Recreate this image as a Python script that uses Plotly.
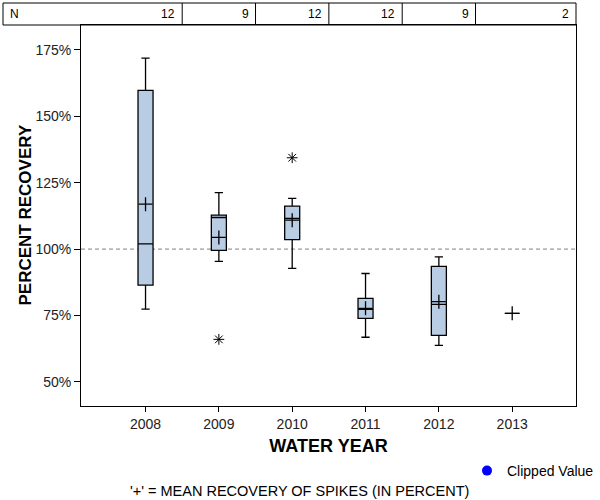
import plotly.graph_objects as go

years = [2008, 2009, 2010, 2011, 2012, 2013]
n_counts = [12, 9, 12, 12, 9, 2]
q1 = [86.4, 99.5, 103.6, 73.9, 67.5, 75.8]
median = [102.0, 111.9, 111.6, 77.3, 79.2, 75.8]
q3 = [159.8, 112.8, 116.2, 81.4, 93.5, 75.8]
lower_whisker = [77.4, 95.4, 92.7, 66.8, 63.7, 75.8]
upper_whisker = [171.9, 121.3, 119.1, 90.8, 97.1, 75.8]
means = [116.9, 104.4, 110.9, 77.7, 80.2, 75.8]
outlier_years = [2009, 2010]
outlier_values = [66.0, 134.4]
y_ticks = [50, 75, 100, 125, 150, 175]
y_tick_labels = ["50%", "75%", "100%", "125%", "150%", "175%"]

FONT = "Liberation Sans, Arial, sans-serif"
BOX_FILL = "#B8CCE4"

fig = go.Figure()

fig.add_trace(go.Box(
    x=years, q1=q1, median=median, q3=q3,
    lowerfence=lower_whisker, upperfence=upper_whisker,
    width=0.205, whiskerwidth=0.55, boxpoints=False,
    fillcolor=BOX_FILL, line=dict(color="black", width=1.3),
    showlegend=False, hoverinfo="skip",
))

fig.add_trace(go.Scatter(
    x=years, y=means, mode="markers",
    marker=dict(symbol="cross-thin", size=10, color="black",
                line=dict(color="black", width=1.3)),
    showlegend=False, hoverinfo="skip",
))

fig.add_trace(go.Scatter(
    x=outlier_years, y=outlier_values, mode="markers",
    marker=dict(symbol="asterisk-open", size=9, color="black",
                line=dict(color="black", width=1)),
    showlegend=False, hoverinfo="skip",
))

# legend entry for clipped values
fig.add_trace(go.Scatter(
    x=[None], y=[None], mode="markers", name="Clipped Value",
    marker=dict(symbol="circle", size=10, color="#0000FF"),
))

# reference line at 100%
fig.add_shape(type="line", xref="paper", yref="y", x0=0, x1=1, y0=100, y1=100,
              line=dict(color="#808080", width=1, dash="4px,3px"), layer="below")

# header table (N counts)
top_y = 1 + 22 / 381
left_x = -78 / 495
fig.add_shape(type="rect", xref="paper", yref="paper", x0=left_x, x1=1, y0=1, y1=top_y,
              line=dict(color="black", width=1), fillcolor="rgba(0,0,0,0)")
for yr in years[:-1]:
    fig.add_shape(type="line", xref="x", yref="paper", x0=yr + 0.5, x1=yr + 0.5,
                  y0=1, y1=top_y, line=dict(color="black", width=1))
fig.add_annotation(xref="paper", yref="paper", x=left_x, y=(1 + top_y) / 2,
                   text="N", showarrow=False, xanchor="left", yanchor="middle", xshift=5,
                   font=dict(family=FONT, size=12, color="black"))
x_right = 2013.87
for i, (yr, n) in enumerate(zip(years, n_counts)):
    cell_right = yr + 0.5 if i < len(years) - 1 else x_right
    fig.add_annotation(xref="x", yref="paper", x=cell_right, y=(1 + top_y) / 2,
                       text=str(n), showarrow=False, xanchor="right", yanchor="middle",
                       xshift=-5, font=dict(family=FONT, size=12, color="black"))

# y-axis title
fig.add_annotation(xref="paper", yref="paper", x=(25 - 81) / 495, y=0.5,
                   text="<b>PERCENT RECOVERY</b>", textangle=-90, showarrow=False,
                   xanchor="center", yanchor="middle",
                   font=dict(family=FONT, size=17, color="black"))

# footnote
fig.add_annotation(xref="paper", yref="paper", x=(299 - 81) / 495, y=-(491 - 406) / 381,
                   text="'+' = MEAN RECOVERY OF SPIKES (IN PERCENT)", showarrow=False,
                   xanchor="center", yanchor="middle",
                   font=dict(family=FONT, size=14.5, color="black"))

fig.update_layout(
    width=600, height=500,
    margin=dict(l=81, r=24, t=25, b=94, autoexpand=False),
    paper_bgcolor="white", plot_bgcolor="white",
    font=dict(family=FONT, size=14, color="black"),
    showlegend=True,
    legend=dict(x=(467 - 81) / 495, y=-(455 - 406) / 381, xanchor="left", yanchor="top",
                bgcolor="rgba(0,0,0,0)", font=dict(family=FONT, size=14, color="black"),
                itemwidth=30, borderwidth=0),
    xaxis=dict(
        range=[2007.12, x_right], tickmode="array", tickvals=years,
        ticktext=[str(y) for y in years], ticks="outside", ticklen=5,
        tickcolor="black", showline=True, linecolor="black", linewidth=1,
        mirror=True, showgrid=False, zeroline=False,
        title=dict(text="<b>WATER YEAR</b>", font=dict(family=FONT, size=18, color="black"),
                   standoff=8),
        tickfont=dict(family=FONT, size=14, color="#222"),
    ),
    yaxis=dict(
        range=[40.9, 184.4], tickmode="array", tickvals=y_ticks, ticktext=y_tick_labels,
        ticks="outside", ticklen=6, tickcolor="black", showline=True,
        linecolor="black", linewidth=1, mirror=True, showgrid=False, zeroline=False,
        tickfont=dict(family=FONT, size=14, color="#222"),
    ),
)

fig.write_html("out.html", config={"displayModeBar": False},
               post_script="document.body.style.margin='0';")
